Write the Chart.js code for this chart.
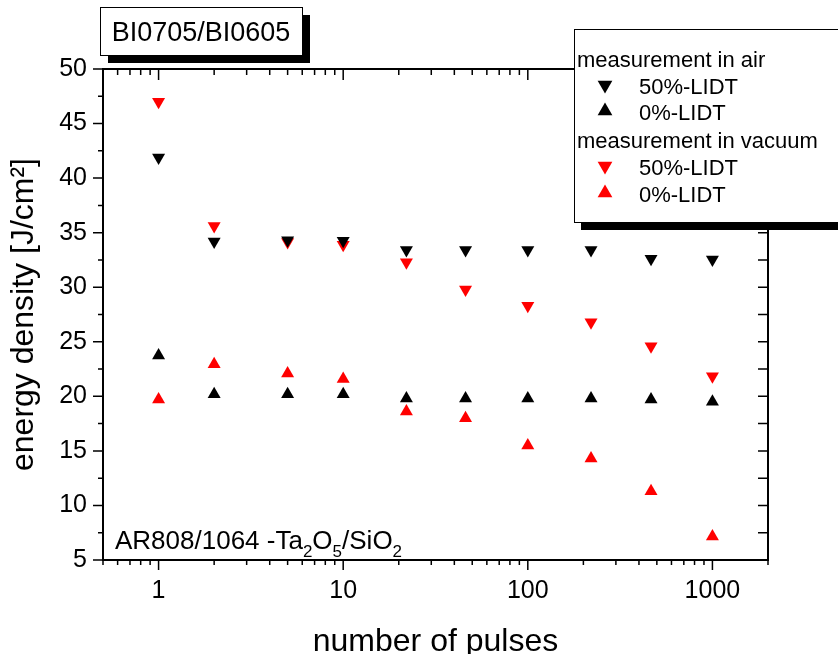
<!DOCTYPE html>
<html>
<head>
<meta charset="utf-8">
<script src="https://cdn.jsdelivr.net/npm/chart.js@4.4.1/dist/chart.umd.min.js"></script>
<style>
  html, body { margin: 0; padding: 0; background: #fff; }
  #wrap { width: 838px; height: 654px; }
</style>
</head>
<body>
<div id="wrap"><canvas id="lidt"></canvas></div>
<script>
// number of pulses (x) and thresholds in J/cm²
const pulses = [1, 2, 5, 10, 22, 46, 100, 220, 465, 1000];
const air50 = [41.9, 34.2, 34.3, 34.25, 33.4, 33.4, 33.4, 33.4, 32.6, 32.55];
const air0 = [23.75, 20.2, 20.2, 20.2, 19.8, 19.8, 19.8, 19.8, 19.7, 19.5];
const vac50 = [47.0, 35.6, 34.15, 33.9, 32.3, 29.8, 28.3, 26.8, 24.6, 21.85];
const vac0 = [19.7, 22.95, 22.1, 21.6, 18.6, 18.0, 15.5, 14.3, 11.3, 7.15];

const xTicks = [1, 10, 100, 1000];
const yTicks = [5, 10, 15, 20, 25, 30, 35, 40, 45, 50];

const font = "'Liberation Sans', Arial, sans-serif";

function pts(ys) {
    return pulses.map((p, i) => ({ x: p, y: ys[i] }));
}

function tri(ctx, x, y, r, down) {
    const s = down ? -1 : 1;
    ctx.beginPath();
    ctx.moveTo(x, y - s * r);
    ctx.lineTo(x + r * 0.866, y + s * r / 2);
    ctx.lineTo(x - r * 0.866, y + s * r / 2);
    ctx.closePath();
    ctx.fill();
}

const frame = {
    id: 'frame',
    afterDatasetsDraw(chart) {
        const ctx = chart.ctx;
        const xs = chart.scales.x, ys = chart.scales.y;
        const { left, right, top, bottom } = chart.chartArea;
        ctx.save();
        ctx.strokeStyle = '#000';
        ctx.lineWidth = 2;
        ctx.strokeRect(left, top, right - left, bottom - top);

        ctx.lineWidth = 1.5;
        ctx.beginPath();
        // log x ticks: decades long, 2..9 short
        for (const d of [0.1, 1, 10, 100, 1000]) {
            for (let k = 1; k <= 9; k++) {
                const v = d * k;
                if (v < 0.5 || v > 2000) continue;
                const px = xs.getPixelForValue(v);
                const major = xTicks.includes(v);
                ctx.moveTo(px, bottom);
                ctx.lineTo(px, bottom + (major ? 10 : 5));
                ctx.moveTo(px, top);
                ctx.lineTo(px, top + (major ? 11 : 6));
            }
        }
        // y ticks every 2.5
        yTicks.forEach((v, i) => {
            const py = ys.getPixelForValue(v);
            ctx.moveTo(left, py); ctx.lineTo(left - 10, py);
            ctx.moveTo(right, py); ctx.lineTo(right - 10, py);
            if (i < yTicks.length - 1) {
                const pm = ys.getPixelForValue(v + 2.5);
                ctx.moveTo(left, pm); ctx.lineTo(left - 5, pm);
                ctx.moveTo(right, pm); ctx.lineTo(right - 10, pm);
            }
        });
        ctx.stroke();

        // axis titles
        ctx.fillStyle = '#000';
        ctx.font = '32px ' + font;
        ctx.textAlign = 'center';
        ctx.textBaseline = 'alphabetic';
        ctx.fillText('number of pulses', (left + right) / 2, 651);
        ctx.save();
        ctx.translate(33, (top + bottom) / 2);
        ctx.rotate(-Math.PI / 2);
        ctx.fillText('energy density [J/cm²]', 0, 0);
        ctx.restore();

        // sample annotation with subscripts
        ctx.textAlign = 'left';
        let x = 115;
        const parts = [['AR808/1064 -Ta', 0], ['2', 1], ['O', 0], ['5', 1], ['/SiO', 0], ['2', 1]];
        for (const [t, sub] of parts) {
            ctx.font = (sub ? '17px ' : '26px ') + font;
            ctx.fillText(t, x, sub ? 557 : 549);
            x += ctx.measureText(t).width;
        }

        // title box with shadow
        ctx.fillStyle = '#000';
        ctx.fillRect(108, 15, 202, 48);
        ctx.fillStyle = '#fff';
        ctx.fillRect(100, 7, 202, 48);
        ctx.lineWidth = 1;
        ctx.strokeRect(100.5, 7.5, 202, 48);
        ctx.fillStyle = '#000';
        ctx.font = '27px ' + font;
        ctx.textAlign = 'center';
        ctx.fillText('BI0705/BI0605', 201, 41);

        // legend box with shadow
        ctx.fillRect(581, 37, 300, 193);
        ctx.fillStyle = '#fff';
        ctx.fillRect(574, 29, 300, 193);
        ctx.strokeRect(574.5, 29.5, 300, 193);
        ctx.textAlign = 'left';
        ctx.font = '22px ' + font;
        const ds = chart.data.datasets;
        const rows = [
            ['measurement in air', null, 67],
            [ds[0].label, ds[0], 94],
            [ds[1].label, ds[1], 120],
            ['measurement in vacuum', null, 148],
            [ds[2].label, ds[2], 175],
            [ds[3].label, ds[3], 202]
        ];
        for (const [t, d, by] of rows) {
            ctx.fillStyle = '#000';
            if (!d) {
                ctx.fillText(t, 577, by);
            } else {
                ctx.fillText(t, 639, by);
                ctx.fillStyle = d.backgroundColor;
                tri(ctx, 605, by - 9, 8.5, d.pointRotation === 180);
            }
        }
        ctx.restore();
    }
};

new Chart(document.getElementById('lidt'), {
    type: 'scatter',
    data: {
        datasets: [
            { label: '50%-LIDT', data: pts(air50), backgroundColor: '#000000', pointRotation: 180 },
            { label: '0%-LIDT', data: pts(air0), backgroundColor: '#000000', pointRotation: 0 },
            { label: '50%-LIDT', data: pts(vac50), backgroundColor: '#ff0000', pointRotation: 180 },
            { label: '0%-LIDT', data: pts(vac0), backgroundColor: '#ff0000', pointRotation: 0 }
        ].map(d => Object.assign(d, {
            pointStyle: 'triangle',
            pointRadius: 7.5,
            pointHoverRadius: 7.5,
            borderWidth: 0,
            borderColor: d.backgroundColor
        }))
    },
    options: {
        responsive: true,
        maintainAspectRatio: false,
        animation: false,
        layout: {
            padding: { left: 0, right: 70, top: 69, bottom: 0 }
        },
        scales: {
            x: {
                type: 'logarithmic',
                min: 0.5,
                max: 2000,
                afterFit: s => { s.height = 94; },
                afterBuildTicks: s => { s.ticks = xTicks.map(v => ({ value: v })); },
                grid: { display: false, drawTicks: false },
                border: { display: false },
                ticks: {
                    color: '#000',
                    padding: 16,
                    maxRotation: 0,
                    font: { family: font, size: 25 },
                    callback: v => String(v)
                }
            },
            y: {
                min: 5,
                max: 50,
                afterFit: s => { s.width = 103; },
                afterBuildTicks: s => { s.ticks = yTicks.map(v => ({ value: v })); },
                grid: { display: false, drawTicks: false },
                border: { display: false },
                ticks: {
                    color: '#000',
                    padding: 16,
                    font: { family: font, size: 25 }
                }
            }
        },
        plugins: {
            legend: { display: false },
            tooltip: { enabled: false }
        }
    },
    plugins: [frame]
});
</script>
</body>
</html>
